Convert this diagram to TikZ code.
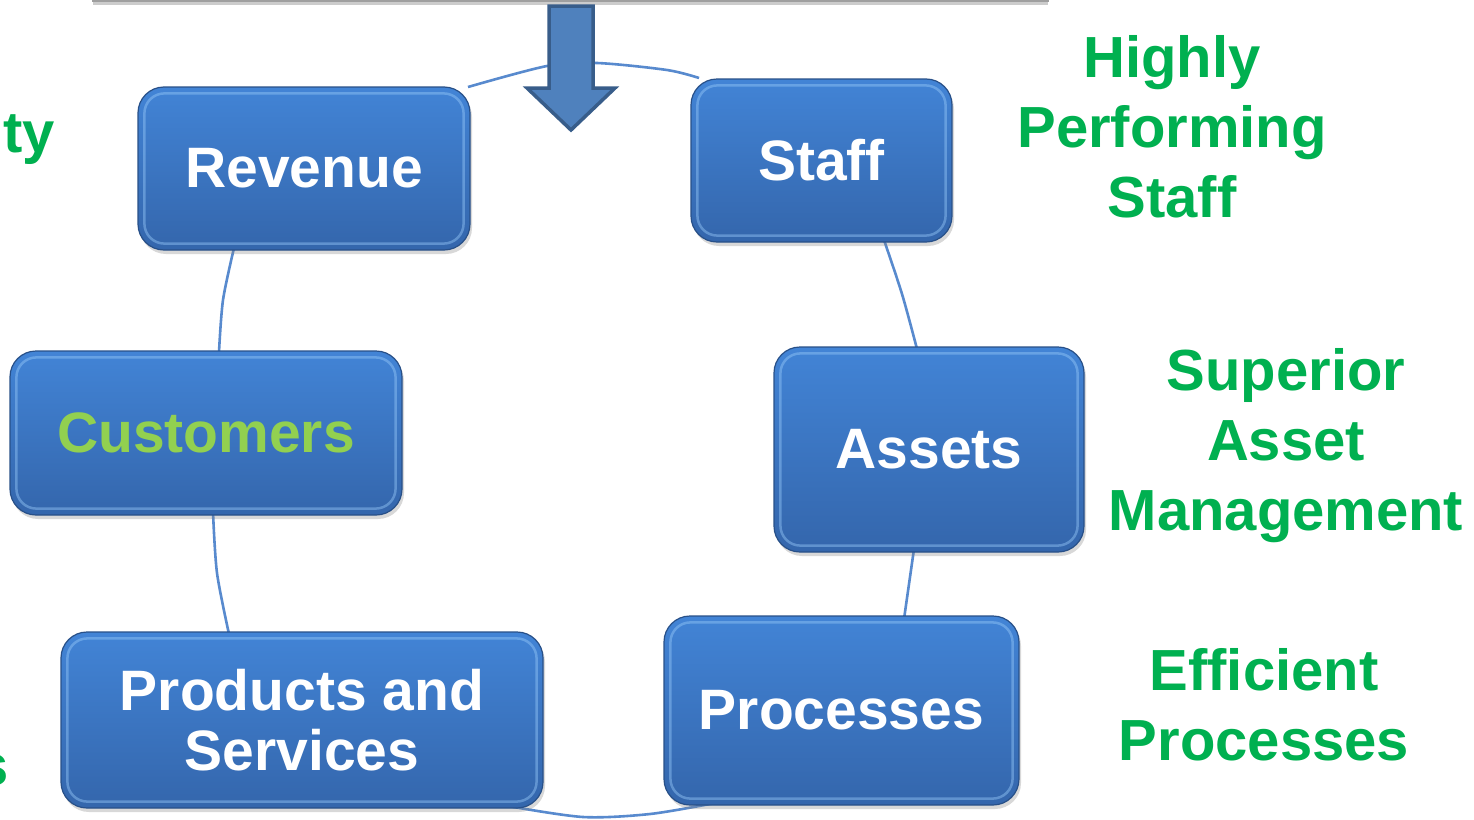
\documentclass[tikz,border=0pt]{standalone}
\usepackage{fontspec}
\setmainfont{Liberation Sans}
\usetikzlibrary{shadows}
\definecolor{boxtop}{RGB}{66,132,214}
\definecolor{boxbot}{RGB}{52,102,172}
\definecolor{boxedge}{RGB}{40,80,136}
\definecolor{bevelc}{RGB}{150,200,248}
\definecolor{arcblue}{RGB}{88,138,206}
\definecolor{arrowfill}{RGB}{79,129,189}
\definecolor{arrowedge}{RGB}{56,93,138}
\definecolor{kgreen}{RGB}{0,176,80}
\definecolor{lgreen}{RGB}{146,208,80}
\newcommand\bxfont{\fontsize{57}{60}\selectfont\bfseries}
\newcommand\grfont{\fontsize{58}{70}\selectfont\bfseries}
\begin{document}
\begin{tikzpicture}[x=1pt,y=-1pt,
  cyclebox/.style={rectangle, rounded corners=26pt, top color=boxtop, bottom color=boxbot,
    draw=boxedge, line width=1.2pt,
    drop shadow={shadow xshift=2pt, shadow yshift=-4pt, opacity=0.3},
    text=white, font=\bxfont, align=center, inner sep=0pt},
  bevelline/.style={draw=bevelc, opacity=0.45, line width=2.5pt, rounded corners=20pt},
  arcline/.style={draw=arcblue, line width=2.6pt},
  sidetext/.style={text=kgreen, font=\grfont, align=center, inner sep=0pt},
  bigarrow/.style={fill=arrowfill, draw=arrowedge, line width=3.5pt, line join=miter},
  topbar/.style={fill=white, draw=gray!75, line width=1.6pt,
    drop shadow={shadow xshift=0pt, shadow yshift=-4pt, opacity=0.4}}]
\useasboundingbox (0,0) rectangle (1474,819);
\fill[white] (0,0) rectangle (1474,819);

% top bar (bottom of a box above the picture)
\draw[topbar] (93,-40) rectangle (1048,1);

% cycle arcs
\coordinate (t1) at (468,87); \coordinate (t2) at (547,66); \coordinate (t3) at (597,63);
\coordinate (t4) at (667,70); \coordinate (t5) at (699,78);
\draw[arcline] plot[smooth] coordinates {(t1) (t2) (t3) (t4) (t5)};
\coordinate (rc1) at (234,248); \coordinate (rc2) at (223,300); \coordinate (rc3) at (219,352);
\draw[arcline] plot[smooth] coordinates {(rc1) (rc2) (rc3)};
\coordinate (cp1) at (213,512); \coordinate (cp2) at (217,573); \coordinate (cp3) at (229,634);
\draw[arcline] plot[smooth] coordinates {(cp1) (cp2) (cp3)};
\coordinate (sa1) at (884,240); \coordinate (sa2) at (902,294); \coordinate (sa3) at (917,349);
\draw[arcline] plot[smooth] coordinates {(sa1) (sa2) (sa3)};
\coordinate (ap1) at (914,549); \coordinate (ap2) at (909,584); \coordinate (ap3) at (904,619);
\draw[arcline] plot[smooth] coordinates {(ap1) (ap2) (ap3)};
\coordinate (b1) at (508,806); \coordinate (b2) at (583,817); \coordinate (b3) at (650,814); \coordinate (b4) at (715,803);
\draw[arcline] plot[smooth] coordinates {(b1) (b2) (b3) (b4)};

% arrow
\draw[bigarrow] (549,6) -- (549,88) -- (527,88) -- (571,130) -- (615,88) -- (593,88) -- (593,6) -- cycle;

% boxes
\node[cyclebox, minimum width=332pt, minimum height=163pt] (rev) at (304,168.5) {Revenue};
\node[cyclebox, minimum width=261pt, minimum height=163pt] (staff) at (821.5,160.5) {Staff};
\node[cyclebox, minimum width=392pt, minimum height=164pt, text=lgreen] (cust) at (206,433) {Customers};
\node[cyclebox, minimum width=310pt, minimum height=205pt] (assets) at (929,449.5) {Assets};
\node[cyclebox, minimum width=482pt, minimum height=176pt] (prod) at (302,720) {Products and\\Services};
\node[cyclebox, minimum width=355pt, minimum height=189pt] (proc) at (841.5,710.5) {Processes};
\foreach \n in {rev,staff,cust,assets,prod,proc}{
  \draw[bevelline] ([shift={(7pt,-7pt)}]\n.north west) rectangle ([shift={(-7pt,7pt)}]\n.south east);
}

% side texts (base anchor = baseline of the last line)
\node[sidetext, anchor=base] (hps) at (1172,217) {Highly\\Performing\\Staff};
\node[sidetext, anchor=base] (sam) at (1286,530) {Superior\\Asset\\Management};
\node[sidetext, anchor=base] (ep) at (1264,760) {Efficient\\Processes};
\node[sidetext, anchor=base east] (ty) at (55,152) {ty};
\node[sidetext, anchor=base east] (s) at (9,785) {s};
\end{tikzpicture}
\end{document}
